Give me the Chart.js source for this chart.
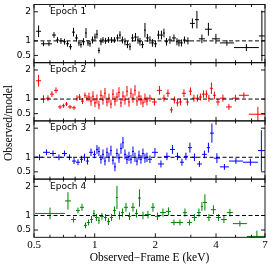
<!DOCTYPE html>
<html>
<head>
<meta charset="utf-8">
<script src="https://cdn.jsdelivr.net/npm/chart.js@4.4.0/dist/chart.umd.min.js"></script>
<style>
  html, body { margin: 0; padding: 0; background: #fff; }
  #wrap { position: relative; width: 274px; height: 269px; overflow: hidden; }
  #wrap canvas { position: absolute; left: 0; top: 0; }
  #ylab {
    position: absolute; left: 8px; top: 123px;
    transform: translate(-50%, -50%) rotate(-90deg);
    font: 11.5px "Liberation Serif", serif; white-space: nowrap; color: #000;
  }
</style>
</head>
<body>
<div id="wrap">
  <canvas id="p1" width="274" height="269"></canvas>
  <canvas id="p2" width="274" height="269"></canvas>
  <canvas id="p3" width="274" height="269"></canvas>
  <canvas id="p4" width="274" height="269"></canvas>
  <div id="ylab">Observed/model</div>
</div>
<script>
// axis ticks
const xTickValues = [0.5, 1, 2, 4, 7];
const xMinorTicks = [0.6, 0.7, 0.8, 0.9, 3, 5, 6];
const yTickValues = [0.5, 1, 2];
const epochLabels = ['Epoch 1', 'Epoch 2', 'Epoch 3', 'Epoch 4'];
const epochColors = ['#000000', '#ff0000', '#0000ff', '#008000'];

// Epoch 1: bin edges (keV), data/model ratio, 1-sigma error
const edges1 = [0.512,0.542,0.573,0.614,0.643,0.665,0.696,0.721,0.746,0.772,0.799,0.826,0.845,0.865,0.895,0.916,0.937,0.959,0.992,1.015,1.038,1.062,1.087,1.112,1.151,1.191,1.232,1.275,1.320,1.350,1.397,1.430,1.480,1.514,1.567,1.621,1.659,1.697,1.756,1.797,1.859,1.902,1.968,2.037,2.108,2.181,2.232,2.310,2.418,2.530,2.589,2.649,2.741,2.837,2.969,3.143,3.290,3.524,3.817,4.182,4.907,6.527,6.990];
const ratio1 = [1.33,0.90,0.90,1.20,1.03,1.00,0.97,0.90,0.80,1.30, 1.10,0.93,0.87,0.97,1.27,0.93,0.90,1.03,1.13,1.23, 0.67,0.97,1.03,1.00,1.03,1.03,1.03,1.10,1.20,1.03, 0.97,0.87,0.80,1.10,1.13,1.03,0.97,0.87,1.37,1.10, 1.03,0.93,0.90,1.20,1.20,1.27,0.97,1.03,1.10,0.97, 0.93,0.93,1.03,1.00,1.60,1.73,1.07,1.40,1.07,0.93, 0.77,1.17];
const err1 = [0.20,0.08,0.08,0.10,0.10,0.10,0.10,0.10,0.10,0.15, 0.12,0.10,0.10,0.12,0.17,0.10,0.10,0.12,0.12,0.15, 0.10,0.12,0.10,0.10,0.10,0.10,0.10,0.12,0.13,0.12, 0.12,0.12,0.12,0.13,0.14,0.13,0.13,0.12,0.25,0.14, 0.13,0.13,0.12,0.15,0.15,0.15,0.13,0.13,0.12,0.12, 0.12,0.12,0.12,0.12,0.17,0.30,0.15,0.22,0.17,0.10, 0.12,0.87];

// Epoch 2
const edges2 = [0.512,0.542,0.573,0.600,0.628,0.658,0.688,0.712,0.737,0.772,0.808,0.826,0.855,0.885,0.905,0.926, 0.948,0.970,0.992,1.015,1.038,1.062,1.087,1.112,1.138,1.164,1.191,1.218,1.247,1.275,1.305,1.335,1.366,1.397,1.430,1.463,1.497,1.531,1.567,1.603,1.640,1.678,1.716,1.756,1.797,1.838, 1.924,2.037,2.157,2.257,2.363,2.445,2.530,2.619,2.710,2.837,2.935,3.038,3.180,3.290,3.405,3.524,3.646,3.731,3.861,3.995,4.182,4.479,4.796,5.195,5.823,7.151];
const ratio2 = [1.63,1.00,1.03,1.17,1.30,0.73,0.77,0.83,0.73,0.70,1.03,1.07,0.93,1.13,1.03, 1.07,0.93,1.10,0.87,1.00,0.80,1.13,0.97,1.20,0.90,1.03,0.83,1.17,0.93,1.07,1.23,0.87,1.10,0.97,1.27,0.90,1.20,1.03,1.30,0.93,1.10,0.97,0.87,1.03,0.93, 1.03,0.90,1.30,1.03,1.20,0.63,0.97,0.87,0.90,1.20,0.90,1.27,1.03,1.03,1.07,1.17,1.17,1.03,1.37,1.13,0.90,1.03,0.73,1.03,1.13,0.48];
const err2 = [0.20,0.13,0.10,0.10,0.10,0.07,0.07,0.07,0.07,0.07,0.10,0.10,0.10,0.10,0.10, 0.15,0.16,0.17,0.15,0.16,0.15,0.17,0.16,0.18,0.15,0.16,0.15,0.17,0.16,0.16,0.18,0.15,0.17,0.16,0.18,0.16,0.17,0.16,0.18,0.16,0.17,0.16,0.15,0.16,0.15, 0.12,0.12,0.15,0.12,0.13,0.10,0.12,0.12,0.12,0.13,0.12,0.13,0.12,0.12,0.12,0.13,0.13,0.12,0.20,0.13,0.12,0.12,0.10,0.12,0.10,0.25];

// Epoch 3
const edges3 = [0.512,0.554,0.600,0.643,0.688,0.729,0.772,0.808,0.845,0.875,0.905,0.937,0.981,1.015,1.038, 1.062,1.087,1.112,1.138,1.164,1.191,1.218,1.247,1.275,1.305,1.335,1.366,1.397,1.430,1.463,1.497,1.531,1.567,1.603,1.640,1.678,1.716,1.756,1.797,1.838, 1.924,2.060,2.206,2.363,2.502,2.649,2.772,2.902,3.038,3.216,3.405,3.605,3.731,3.905,4.182,4.635,5.438,6.453,6.990];
const ratio3 = [1.00,1.17,1.13,1.00,1.13,1.00,0.87,0.83,0.93,1.00,0.87,1.17,1.10,1.27, 1.20,0.93,1.10,0.87,1.17,1.00,1.23,0.90,0.67,1.13,0.97,1.30,1.50,1.10,0.93,1.03,0.93,1.20,1.00,0.87,1.07,0.93,1.13,0.97,1.00, 0.93,1.17,0.77,1.03,1.27,1.03,0.83,1.03,1.33,1.00,0.77,1.10,1.33,1.83,0.97,0.67,0.87,0.83,1.23];
const err3 = [0.10,0.10,0.10,0.10,0.10,0.10,0.10,0.10,0.12,0.12,0.12,0.13,0.13,0.15, 0.16,0.15,0.17,0.15,0.16,0.16,0.17,0.15,0.15,0.17,0.16,0.18,0.20,0.17,0.16,0.16,0.15,0.17,0.16,0.15,0.16,0.15,0.17,0.16,0.16, 0.13,0.15,0.12,0.13,0.15,0.13,0.12,0.13,0.17,0.13,0.10,0.13,0.17,0.33,0.17,0.10,0.10,0.12,0.70];

// Epoch 4
const edges4 = [0.506,0.712,0.763,0.808,0.845,0.885,0.916,0.948,0.981,1.003,1.038,1.062,1.112,1.151,1.191,1.232,1.275,1.305,1.350,1.397,1.463,1.514,1.585,1.640,1.697,1.776,1.902,1.991,2.108,2.257,2.390,2.560,2.741,2.869,3.038,3.216,3.366,3.444,3.605,3.774,3.995,4.230,4.530,4.851,5.692,7.151];
const ratio4 = [1.07,1.50,0.86,1.17,1.28,0.66,0.76,0.86,1.07,0.93, 0.83,0.97,0.93,0.79,0.93,1.17,1.62,1.00,1.10,1.28, 0.97,1.28,1.07,1.60,1.00,1.03,1.28,0.97,1.10,1.14, 0.76,0.76,1.10,0.76,0.93,1.10,1.31,1.45,0.93,1.20, 0.93,0.86,1.10,0.72,0.28];
const err4 = [0.20,0.30,0.10,0.10,0.12,0.10,0.10,0.12,0.12,0.12, 0.12,0.12,0.12,0.12,0.12,0.14,0.40,0.14,0.14,0.15, 0.13,0.15,0.14,0.30,0.13,0.13,0.15,0.13,0.14,0.14, 0.10,0.10,0.14,0.10,0.12,0.14,0.15,0.28,0.12,0.15, 0.12,0.12,0.13,0.10,0.20];

const W = 274, H = 269;
const LEFT = 34, RIGHT = 265;
const PANEL_TOP = 4.5, PANEL_H = 58.2;

// x/y error bars as broken line segments (NaN breaks the line)
function errorSegments(edges, ratio, err) {
    const pts = [];
    ratio.forEach((r, i) => {
        const lo = edges[i], hi = edges[i + 1];
        const c = Math.sqrt(lo * hi);
        pts.push({x: lo, y: r}, {x: hi, y: r}, {x: c, y: NaN});
        pts.push({x: c, y: r - err[i]}, {x: c, y: r + err[i]}, {x: c, y: NaN});
    });
    return pts;
}

// frame, inward ticks and epoch label
const panelFrame = {
    id: 'panelFrame',
    afterDatasetsDraw(chart, args, opts) {
        const {ctx, chartArea: a, scales: {x, y}} = chart;
        ctx.save();
        ctx.strokeStyle = '#000';
        ctx.lineWidth = 0.9;
        ctx.strokeRect(a.left, a.top, a.right - a.left, a.bottom - a.top);
        ctx.beginPath();
        xTickValues.concat(xMinorTicks).forEach(v => {
            const px = x.getPixelForValue(v);
            const len = xTickValues.includes(v) ? 4 : 2.5;
            ctx.moveTo(px, a.bottom); ctx.lineTo(px, a.bottom - len);
            ctx.moveTo(px, a.top); ctx.lineTo(px, a.top + len);
        });
        yTickValues.forEach(v => {
            const py = y.getPixelForValue(v);
            ctx.moveTo(a.left, py); ctx.lineTo(a.left + 4, py);
            ctx.moveTo(a.right, py); ctx.lineTo(a.right - 4, py);
        });
        ctx.stroke();
        ctx.fillStyle = '#000';
        ctx.font = '9px "DejaVu Sans"';
        ctx.textBaseline = 'alphabetic';
        ctx.textAlign = 'left';
        ctx.fillText(opts.label, a.left + 16, a.top + 9.5);
        ctx.restore();
    }
};

function makePanel(id, idx, edges, ratio, err) {
    const top = PANEL_TOP + idx * PANEL_H;
    const bottom = top + PANEL_H;
    const last = idx === 3;
    return new Chart(document.getElementById(id), {
        type: 'scatter',
        data: {
            datasets: [{
                data: [{x: 0.5, y: 1}, {x: 7, y: 1}],
                showLine: true,
                borderColor: '#000',
                borderWidth: 1,
                borderDash: [4, 2.5],
                pointRadius: 0
            }, {
                data: errorSegments(edges, ratio, err),
                showLine: true,
                spanGaps: false,
                borderColor: epochColors[idx],
                borderWidth: 1,
                pointRadius: 0
            }]
        },
        options: {
            responsive: false,
            animation: false,
            events: [],
            layout: {padding: {left: 0, right: W - RIGHT, top: top, bottom: last ? 0 : H - bottom}},
            plugins: {
                legend: {display: false},
                tooltip: {enabled: false},
                panelFrame: {label: epochLabels[idx]}
            },
            scales: {
                x: {
                    type: 'logarithmic',
                    min: 0.5,
                    max: 7,
                    grid: {display: false, drawTicks: false},
                    border: {display: false},
                    ticks: {
                        display: last,
                        autoSkip: false,
                        maxRotation: 0,
                        padding: 1,
                        color: '#000',
                        font: {family: 'Liberation Serif', size: 11},
                        callback: v => String(v)
                    },
                    title: {
                        display: last,
                        text: 'Observed\u2212Frame E (keV)',
                        color: '#000',
                        font: {family: 'Liberation Serif', size: 11.5},
                        padding: {top: 0, bottom: 4}
                    },
                    afterBuildTicks: s => { s.ticks = xTickValues.map(v => ({value: v})); },
                    afterFit: s => {
                        s.height = last ? H - bottom : 0;
                        s.paddingLeft = 0;
                        s.paddingRight = 0;
                    }
                },
                y: {
                    min: 0.25,
                    max: 2.25,
                    grid: {display: false, drawTicks: false},
                    border: {display: false},
                    ticks: {
                        autoSkip: false,
                        padding: 3,
                        color: '#000',
                        font: {family: 'DejaVu Sans', size: 9},
                        callback: v => String(v)
                    },
                    afterBuildTicks: s => { s.ticks = yTickValues.map(v => ({value: v})); },
                    afterFit: s => {
                        s.width = LEFT;
                        s.paddingTop = 0;
                        s.paddingBottom = 0;
                    }
                }
            }
        },
        plugins: [panelFrame]
    });
}

makePanel('p1', 0, edges1, ratio1, err1);
makePanel('p2', 1, edges2, ratio2, err2);
makePanel('p3', 2, edges3, ratio3, err3);
makePanel('p4', 3, edges4, ratio4, err4);
</script>
</body>
</html>
